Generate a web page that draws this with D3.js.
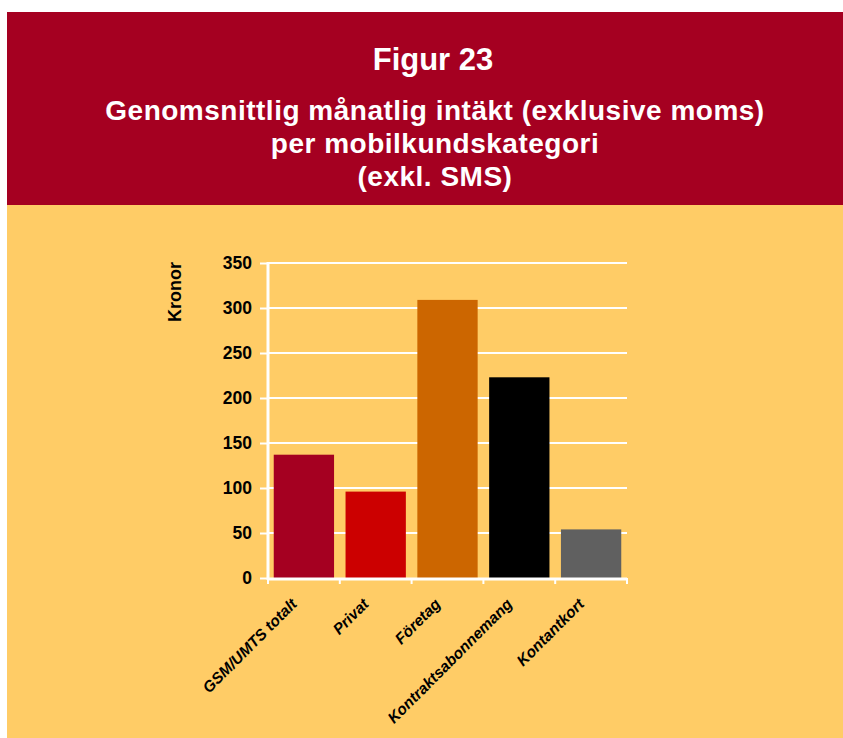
<!DOCTYPE html>
<html>
<head>
<meta charset="utf-8">
<script src="https://cdnjs.cloudflare.com/ajax/libs/d3/7.8.5/d3.min.js"></script>
<style>
  body { margin: 0; background: #fff; }
  text { font-family: "Liberation Sans", Arial, sans-serif; font-weight: bold; }
</style>
</head>
<body>
<svg id="chart" width="843" height="738"></svg>
<script>
var categories = ["GSM/UMTS totalt", "Privat", "Företag", "Kontraktsabonnemang", "Kontantkort"];
var values = [137, 96, 309, 223, 54];
var barColors = ["#A50021", "#CC0000", "#CC6600", "#000000", "#606060"];
var yTicks = [0, 50, 100, 150, 200, 250, 300, 350];
var titleLines = ["Genomsnittlig månatlig intäkt (exklusive moms)", "per mobilkundskategori", "(exkl. SMS)"];

function drawChart() {
    var svg = d3.select("#chart");

    // panels
    svg.append("rect").attr("x", 7).attr("y", 205).attr("width", 836).attr("height", 533).attr("fill", "#FFCC66");
    svg.append("rect").attr("x", 7).attr("y", 12).attr("width", 836).attr("height", 193).attr("fill", "#A50021");

    svg.append("text")
       .attr("x", 433).attr("y", 70)
       .attr("text-anchor", "middle")
       .attr("font-size", "31px")
       .style("fill", "white")
       .text("Figur 23");

    svg.selectAll(".sub")
       .data(titleLines)
       .enter().append("text")
       .attr("class", "sub")
       .attr("x", 435)
       .attr("y", function(d, i) { return 120 + i * 33; })
       .attr("text-anchor", "middle")
       .attr("font-size", "28px")
       .attr("letter-spacing", "0.5px")
       .style("fill", "white")
       .text(function(d) { return d; });

    var x = d3.scaleBand().domain(categories).range([268, 627]).paddingInner(0.16).paddingOuter(0.08),
        y = d3.scaleLinear().domain([0, 350]).range([578, 263]);

    var left = x.range()[0], right = x.range()[1];

    // gridlines
    svg.selectAll(".grid")
       .data(yTicks.slice(1))
       .enter().append("line")
       .attr("x1", left).attr("x2", right)
       .attr("y1", function(d) { return y(d); })
       .attr("y2", function(d) { return y(d); })
       .attr("stroke", "white")
       .attr("stroke-width", 2);

    svg.selectAll(".bar")
       .data(values)
       .enter().append("rect")
       .attr("class", "bar")
       .attr("x", function(d, i) { return x(categories[i]); })
       .attr("y", function(d) { return y(d); })
       .attr("width", x.bandwidth())
       .attr("height", function(d) { return y(0) - y(d); })
       .attr("fill", function(d, i) { return barColors[i]; });

    // y axis
    var yAxis = svg.append("g")
       .attr("transform", "translate(" + left + ",0)")
       .call(d3.axisLeft(y).tickValues(yTicks).tickSize(8).tickPadding(8));
    yAxis.select(".domain").remove();
    yAxis.selectAll(".tick line").attr("stroke", "white").attr("stroke-width", 2);
    yAxis.selectAll(".tick text")
       .attr("font-size", "17.5px")
       .attr("font-family", "Liberation Sans, Arial, sans-serif")
       .attr("font-weight", "bold")
       .style("fill", "black");
    svg.append("line")
       .attr("x1", left).attr("x2", left)
       .attr("y1", y(350) - 1).attr("y2", y(0) + 2)
       .attr("stroke", "white").attr("stroke-width", 3);

    // x axis
    svg.append("line")
       .attr("x1", left).attr("x2", right)
       .attr("y1", y(0) + 1).attr("y2", y(0) + 1)
       .attr("stroke", "white").attr("stroke-width", 3);
    var bounds = categories.map(function(c) { return x(c) - x.step() * x.paddingInner() / 2; });
    bounds.push(right);
    svg.selectAll(".xtick")
       .data(bounds)
       .enter().append("line")
       .attr("x1", function(d) { return d; })
       .attr("x2", function(d) { return d; })
       .attr("y1", y(0))
       .attr("y2", y(0) + 6)
       .attr("stroke", "white").attr("stroke-width", 2);

    svg.selectAll(".xlabel")
       .data(categories)
       .enter().append("text")
       .attr("transform", function(d) {
           return "translate(" + (x(d) + x.bandwidth() / 2 - 6) + "," + (y(0) + 27) + ") rotate(-45)";
       })
       .attr("text-anchor", "end")
       .attr("font-size", "15.5px")
       .attr("font-style", "italic")
       .style("fill", "black")
       .text(function(d) { return d; });

    svg.append("text")
       .attr("transform", "translate(181,292) rotate(-90)")
       .attr("text-anchor", "middle")
       .attr("font-size", "18px")
       .style("fill", "black")
       .text("Kronor");
}

drawChart();
</script>
</body>
</html>
